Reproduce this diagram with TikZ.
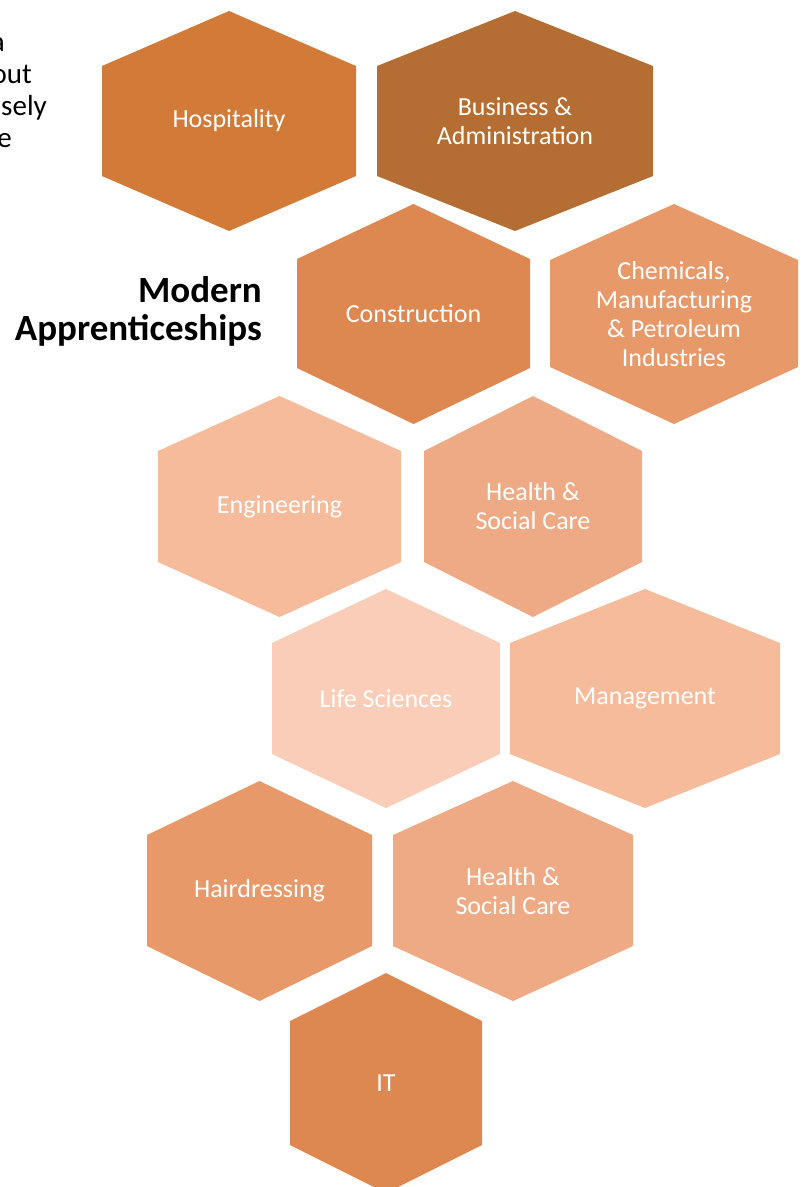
\documentclass[tikz,border=0pt]{standalone}
\usepackage{fontspec}
\setmainfont{Carlito}
\definecolor{cHosp}{HTML}{D27A38}
\definecolor{cBus}{HTML}{B46E33}
\definecolor{cCons}{HTML}{DD8851}
\definecolor{cChem}{HTML}{E8996A}
\definecolor{cEng}{HTML}{F5BB9A}
\definecolor{cHsc}{HTML}{EEAA84}
\definecolor{cLife}{HTML}{F9CDB8}
\newcommand\hexcell[9]{%
  \path[fill=#8] ({(#2+#3)/2},#4) -- (#3,#5) -- (#3,#6) -- ({(#2+#3)/2},#7) -- (#2,#6) -- (#2,#5) -- cycle;
  \node[lbl] (#1) at ({(#2+#3)/2},{(#4+#7)/2}) {#9};}
\begin{document}
\begin{tikzpicture}[x=1pt,y=-1pt,
  lbl/.style={text=white, align=center, inner sep=0pt, font=\fontsize{26}{29}\selectfont},
  frag/.style={anchor=base east, inner sep=0pt, font=\fontsize{29}{32}\selectfont},
  ttl/.style={anchor=base east, inner sep=0pt, font=\bfseries\fontsize{37}{38}\selectfont}]
\useasboundingbox (0,0) rectangle (806,1187);
\clip (0,0) rectangle (806,1187);
\fill[white] (0,0) rectangle (806,1187);
% cut-off text at the left edge
\node[frag] (frag1) at (5,51) {a};
\node[frag] (frag2) at (32,83) {out};
\node[frag] (frag3) at (47,115) {osely};
\node[frag] (frag4) at (12,147) {e};
% title
\node[ttl] (title1) at (262,302) {Modern};
\node[ttl] (title2) at (262,340) {Apprenticeships};
% hexagons
\hexcell{hosp}{102}{356}{11}{66}{176}{231}{cHosp}{Hospitality}
\hexcell{bus}{377}{653}{11}{66}{176}{231}{cBus}{Business \&\\Administration}
\hexcell{cons}{297}{530}{204}{259}{368}{424}{cCons}{Construction}
\hexcell{chem}{550}{798}{204}{260}{367}{424}{cChem}{Chemicals,\\Manufacturing\\\& Petroleum\\Industries}
\hexcell{eng}{158}{401}{396}{451}{562}{617}{cEng}{Engineering}
\hexcell{hscA}{424}{642}{396}{451}{562}{617}{cHsc}{Health \&\\Social Care}
\hexcell{life}{272}{500}{589}{643}{754}{808}{cLife}{Life Sciences}
\hexcell{mgmt}{510}{780}{589}{643}{754}{808}{cEng}{Management}
\hexcell{hair}{147}{372}{781}{835}{946}{1001}{cChem}{Hairdressing}
\hexcell{hscB}{393}{633}{781}{835}{946}{1001}{cHsc}{Health \&\\Social Care}
\hexcell{it}{290}{482}{973}{1021}{1145}{1193}{cCons}{IT}
\end{tikzpicture}
\end{document}
